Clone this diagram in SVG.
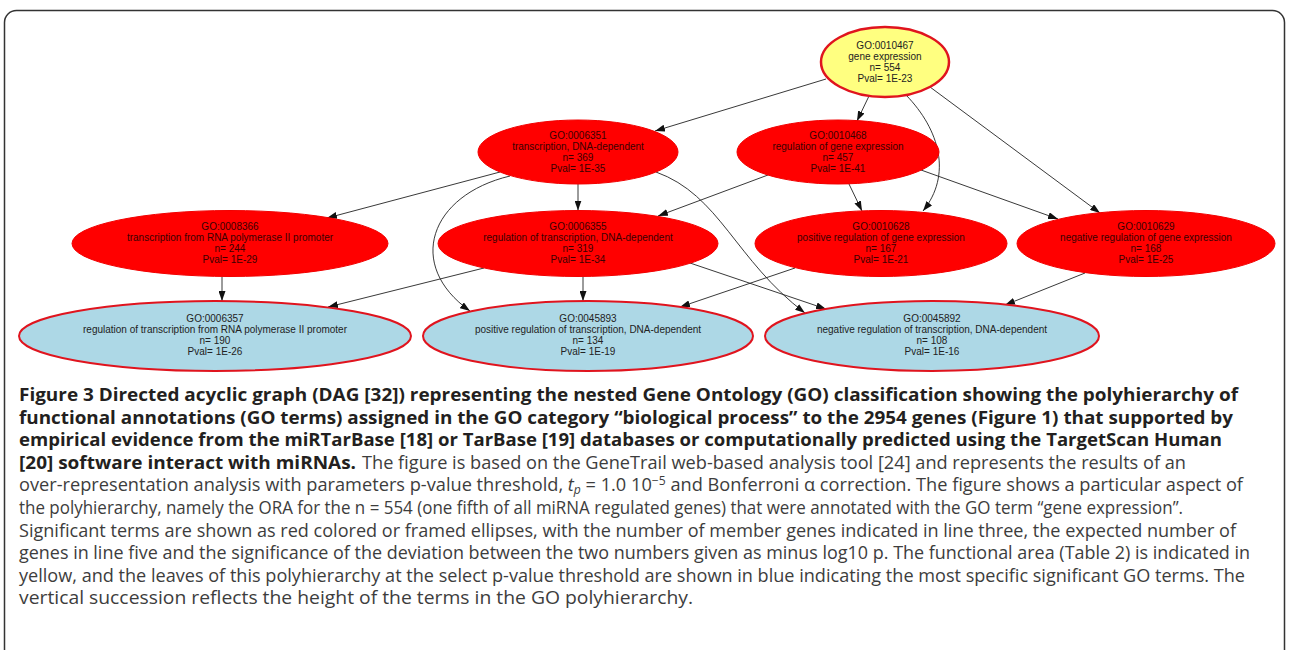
<svg xmlns="http://www.w3.org/2000/svg" width="1289" height="650" viewBox="0 0 1289 650">
<defs>
<marker id="arr" markerWidth="10" markerHeight="7" refX="10" refY="3.5" orient="auto" markerUnits="userSpaceOnUse">
<path d="M0,0 L10,3.5 L0,7 z" fill="#111"/>
</marker>
<style>
.red{fill:#ff0000;stroke:#f20000;stroke-width:1}
.blue{fill:#add8e6;stroke:#e0141e;stroke-width:2}
.yel{fill:#ffff80;stroke:#e0141e;stroke-width:2.5}
.nt{font-family:"Liberation Sans",Arial,sans-serif;font-size:10px;text-anchor:middle}
.nr{fill:#3a0000}
.nb{fill:#222}
.e{fill:none;stroke:#222;stroke-width:0.9;marker-end:url(#arr)}
.cap{font-family:"Open Sans","Noto Sans",sans-serif;font-size:18px}
.b{font-weight:bold;fill:#231f20}
.r{fill:#3d3d3d}
</style>
</defs>
<rect width="1289" height="650" fill="#fff"/>
<rect x="4.5" y="10.5" width="1280" height="700" rx="12" fill="none" stroke="#333" stroke-width="1.5"/>

<g id="connectors">
<path class="e" d="M826,79 L655,131"/>
<path class="e" d="M869,96 L857,121"/>
<path class="e" d="M906,95 C940,130 952,175 923,211"/>
<path class="e" d="M930,87 L1100,213"/>
<path class="e" d="M921,170 L1058,219"/>
<path class="e" d="M768,175 L658,216"/>
<path class="e" d="M849,184 L862,211"/>
<path class="e" d="M500,172 L327,218"/>
<path class="e" d="M578,184 L578,210.5"/>
<path class="e" d="M510,176 C430,195 405,265 470,311"/>
<path class="e" d="M656,172 C720,195 735,260 805,313"/>
<path class="e" d="M484,268 L328,307"/>
<path class="e" d="M583,276.5 L583,301"/>
<path class="e" d="M690,263 L826,309"/>
<path class="e" d="M222,276.5 L222,301"/>
<path class="e" d="M795,268 L680,307"/>
<path class="e" d="M1085,273 L1005,305"/>
</g>

<g id="n0010467">
<ellipse class="yel" cx="885" cy="62" rx="64" ry="35"/>
<text class="nt nb"><tspan x="885" y="49">GO:0010467</tspan><tspan x="885" y="60">gene expression</tspan><tspan x="885" y="71">n= 554</tspan><tspan x="885" y="82">Pval= 1E-23</tspan></text>
</g>
<g id="n0006351">
<ellipse class="red" cx="578" cy="152" rx="100" ry="32"/>
<text class="nt nr"><tspan x="578" y="139">GO:0006351</tspan><tspan x="578" y="150">transcription, DNA-dependent</tspan><tspan x="578" y="161">n= 369</tspan><tspan x="578" y="172">Pval= 1E-35</tspan></text>
</g>
<g id="n0010468">
<ellipse class="red" cx="838" cy="152" rx="101" ry="32"/>
<text class="nt nr"><tspan x="838" y="139">GO:0010468</tspan><tspan x="838" y="150">regulation of gene expression</tspan><tspan x="838" y="161">n= 457</tspan><tspan x="838" y="172">Pval= 1E-41</tspan></text>
</g>
<g id="n0008366">
<ellipse class="red" cx="230" cy="243.5" rx="158" ry="33"/>
<text class="nt nr"><tspan x="230" y="230">GO:0008366</tspan><tspan x="230" y="241">transcription from RNA polymerase II promoter</tspan><tspan x="230" y="252">n= 244</tspan><tspan x="230" y="263">Pval= 1E-29</tspan></text>
</g>
<g id="n0006355">
<ellipse class="red" cx="578" cy="243.5" rx="140" ry="33"/>
<text class="nt nr"><tspan x="578" y="230">GO:0006355</tspan><tspan x="578" y="241">regulation of transcription, DNA-dependent</tspan><tspan x="578" y="252">n= 319</tspan><tspan x="578" y="263">Pval= 1E-34</tspan></text>
</g>
<g id="n0010628">
<ellipse class="red" cx="881" cy="243.5" rx="126" ry="33"/>
<text class="nt nr"><tspan x="881" y="230">GO:0010628</tspan><tspan x="881" y="241">positive regulation of gene expression</tspan><tspan x="881" y="252">n= 167</tspan><tspan x="881" y="263">Pval= 1E-21</tspan></text>
</g>
<g id="n0010629">
<ellipse class="red" cx="1146" cy="243.5" rx="129" ry="33"/>
<text class="nt nr"><tspan x="1146" y="230">GO:0010629</tspan><tspan x="1146" y="241">negative regulation of gene expression</tspan><tspan x="1146" y="252">n= 168</tspan><tspan x="1146" y="263">Pval= 1E-25</tspan></text>
</g>
<g id="n0006357">
<ellipse class="blue" cx="215" cy="336" rx="196" ry="35"/>
<text class="nt nb"><tspan x="215" y="322">GO:0006357</tspan><tspan x="215" y="333">regulation of transcription from RNA polymerase II promoter</tspan><tspan x="215" y="344">n= 190</tspan><tspan x="215" y="355">Pval= 1E-26</tspan></text>
</g>
<g id="n0045893">
<ellipse class="blue" cx="588" cy="336" rx="165" ry="35"/>
<text class="nt nb"><tspan x="588" y="322">GO:0045893</tspan><tspan x="588" y="333">positive regulation of transcription, DNA-dependent</tspan><tspan x="588" y="344">n= 134</tspan><tspan x="588" y="355">Pval= 1E-19</tspan></text>
</g>
<g id="n0045892">
<ellipse class="blue" cx="932" cy="336" rx="167" ry="35"/>
<text class="nt nb"><tspan x="932" y="322">GO:0045892</tspan><tspan x="932" y="333">negative regulation of transcription, DNA-dependent</tspan><tspan x="932" y="344">n= 108</tspan><tspan x="932" y="355">Pval= 1E-16</tspan></text>
</g>

<g id="caption">
<text class="cap b" x="19" y="401" textLength="1219" lengthAdjust="spacingAndGlyphs">Figure 3 Directed acyclic graph (DAG [32]) representing the nested Gene Ontology (GO) classification showing the polyhierarchy of</text>
<text class="cap b" x="19" y="423.6" textLength="1214" lengthAdjust="spacingAndGlyphs">functional annotations (GO terms) assigned in the GO category “biological process” to the 2954 genes (Figure 1) that supported by</text>
<text class="cap b" x="19" y="446.2" textLength="1203" lengthAdjust="spacingAndGlyphs">empirical evidence from the miRTarBase [18] or TarBase [19] databases or computationally predicted using the TargetScan Human</text>
<text class="cap b" x="19" y="468.8" textLength="337" lengthAdjust="spacingAndGlyphs">[20] software interact with miRNAs.</text>
<text class="cap r" x="362" y="468.8" textLength="824" lengthAdjust="spacingAndGlyphs">The figure is based on the GeneTrail web-based analysis tool [24] and represents the results of an</text>
<text class="cap r" x="19" y="491.4" textLength="1224" lengthAdjust="spacingAndGlyphs">over-representation analysis with parameters p-value threshold, <tspan font-style="italic">t</tspan><tspan font-style="italic" font-size="12" dy="3">p</tspan><tspan dy="-3"> = 1.0 10</tspan><tspan font-size="12" dy="-6">−5</tspan><tspan dy="6"> and Bonferroni α correction. The figure shows a particular aspect of</tspan></text>
<text class="cap r" x="19" y="514" textLength="1164" lengthAdjust="spacingAndGlyphs">the polyhierarchy, namely the ORA for the n = 554 (one fifth of all miRNA regulated genes) that were annotated with the GO term “gene expression”.</text>
<text class="cap r" x="19" y="536.6" textLength="1217" lengthAdjust="spacingAndGlyphs">Significant terms are shown as red colored or framed ellipses, with the number of member genes indicated in line three, the expected number of</text>
<text class="cap r" x="19" y="559.2" textLength="1231" lengthAdjust="spacingAndGlyphs">genes in line five and the significance of the deviation between the two numbers given as minus log10 p. The functional area (Table 2) is indicated in</text>
<text class="cap r" x="19" y="581.8" textLength="1226" lengthAdjust="spacingAndGlyphs">yellow, and the leaves of this polyhierarchy at the select p-value threshold are shown in blue indicating the most specific significant GO terms. The</text>
<text class="cap r" x="19" y="604.4" textLength="674" lengthAdjust="spacingAndGlyphs">vertical succession reflects the height of the terms in the GO polyhierarchy.</text>
</g>
</svg>
